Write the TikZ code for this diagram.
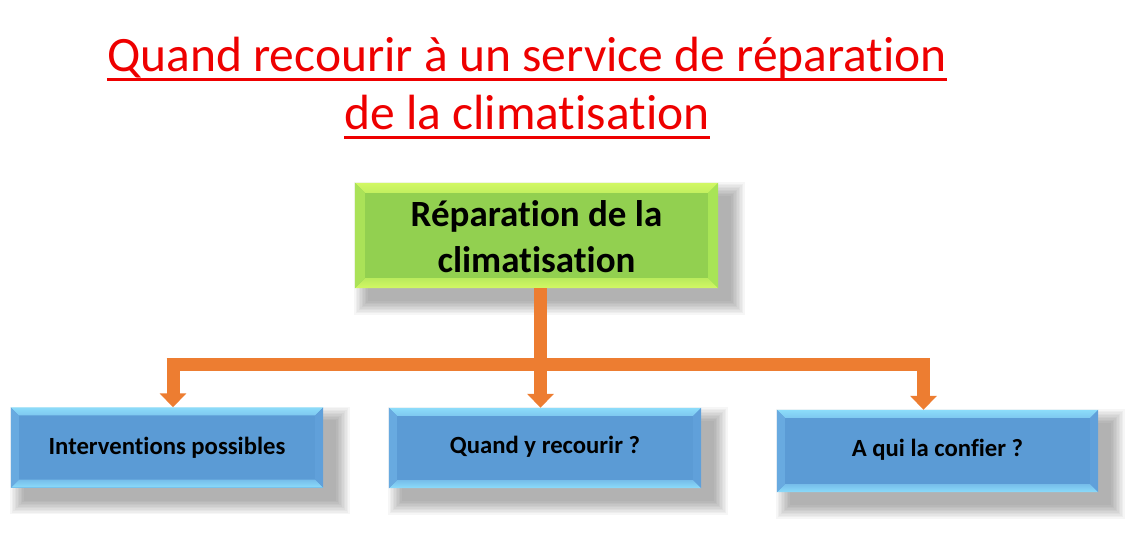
\documentclass[tikz,border=0pt]{standalone}
\usepackage{fontspec}
\setmainfont[RawFeature={-liga;-clig;-dlig;-calt}]{Carlito}
\usetikzlibrary{backgrounds,calc,arrows.meta}
\definecolor{titlered}{RGB}{238,0,0}
\definecolor{orng}{RGB}{237,125,49}
\definecolor{blueF}{RGB}{91,155,213}
\definecolor{blueL}{RGB}{140,220,250}
\definecolor{blueS}{RGB}{104,170,224}
\definecolor{blueD}{RGB}{96,160,218}
\definecolor{greenF}{RGB}{146,208,80}
\definecolor{greenL}{RGB}{210,248,100}
\definecolor{greenS}{RGB}{170,226,88}
\definecolor{greenD}{RGB}{168,228,86}
\tikzset{x=1pt,y=-1pt,
  titletext/.style={text=titlered, anchor=base, inner sep=0pt, font=\fontsize{49.5}{58}\selectfont},
  uline/.style={draw=titlered, line width=2.6pt},
  topbox/.style={rectangle, fill=greenF, minimum width=363pt, minimum height=105pt,
    inner sep=0pt, align=center, text=black, font=\fontsize{37}{46}\selectfont\bfseries},
  leafbox/.style={rectangle, fill=blueF, minimum width=312pt, minimum height=80pt,
    inner sep=0pt, align=center, text=black, font=\fontsize{24.7}{28}\selectfont\bfseries},
  conn/.style={draw=orng, line width=13pt},
  arr/.style={conn, -{Triangle[width=26pt,length=14pt]}},
}
% bevel: node name, light, side-left, side-right, size
\newcommand\bevelize[5]{%
  \shade[top color=#2, bottom color=#2!60!#3] (#1.north west) -- (#1.north east)
     -- ([shift={(-#5,#5)}]#1.north east) -- ([shift={(#5,#5)}]#1.north west) -- cycle;
  \shade[top color=#2!40!#3, bottom color=#2] (#1.south west) -- (#1.south east)
     -- ([shift={(-#5,-#5)}]#1.south east) -- ([shift={(#5,-#5)}]#1.south west) -- cycle;
  \fill[#3] (#1.north west) -- ([shift={(#5,#5)}]#1.north west)
     -- ([shift={(#5,-#5)}]#1.south west) -- (#1.south west) -- cycle;
  \fill[#4] (#1.north east) -- ([shift={(-#5,#5)}]#1.north east)
     -- ([shift={(-#5,-#5)}]#1.south east) -- (#1.south east) -- cycle;
}
\newcommand\shadowize[1]{%
  \foreach \s in {0,1.5,...,13.5}{
    \fill[black, opacity=0.034] ([shift={(13-\s,13-\s)}]#1.north west) rectangle ([shift={(13+\s,13+\s)}]#1.south east);
  }%
}
\begin{document}
\begin{tikzpicture}
\useasboundingbox (0,0) rectangle (1130,553);

\node[titletext] (t1) at (527,72) {Quand recourir à un service de réparation};
\node[titletext] (t2) at (527,130) {de la climatisation};
\draw[uline] ([yshift=-7.5pt]t1.base west) -- ([yshift=-7.5pt]t1.base east);
\draw[uline] ([yshift=-7.5pt]t2.base west) -- ([yshift=-7.5pt]t2.base east);

\node[topbox] (top) at (536.5,235.5) {};
\bevelize{top}{greenL}{greenS}{greenD}{10}
\node[topbox, fill=none] (toptext) at ([yshift=-1pt]top.center) {Réparation de la\\climatisation};

\node[leafbox] (l) at (167,447.5) {};
\bevelize{l}{blueL}{blueS}{blueD}{8}
\node[leafbox, fill=none] (ltext) at (l.center) {Interventions possibles};

\node[leafbox] (m) at (545,448) {};
\bevelize{m}{blueL}{blueS}{blueD}{8}
\node[leafbox, fill=none] (mtext) at ([yshift=1pt]m.center) {Quand y recourir ?};

\node[leafbox, minimum width=321pt, minimum height=82pt] (r) at (937.5,451) {};
\bevelize{r}{blueL}{blueS}{blueD}{8}
\node[leafbox, fill=none] (rtext) at ([yshift=1pt]r.center) {A qui la confier ?};

\begin{scope}[on background layer]
  \shadowize{top}
  \shadowize{l}
  \shadowize{m}
  \shadowize{r}
\end{scope}

\coordinate (jl) at (173,364.5);
\coordinate (jm) at (540.5,364.5);
\coordinate (jr) at (923.5,364.5);

\draw[conn] (top.south -| jm) -- ([yshift=-6.5pt]jm);
\draw[conn] ([xshift=-6.5pt]jl) -- ([xshift=6.5pt]jr);
\draw[arr] (jl) -- (jl |- l.north);
\draw[arr] (jm) -- (jm |- m.north);
\draw[arr] (jr) -- (jr |- r.north);
\end{tikzpicture}
\end{document}
